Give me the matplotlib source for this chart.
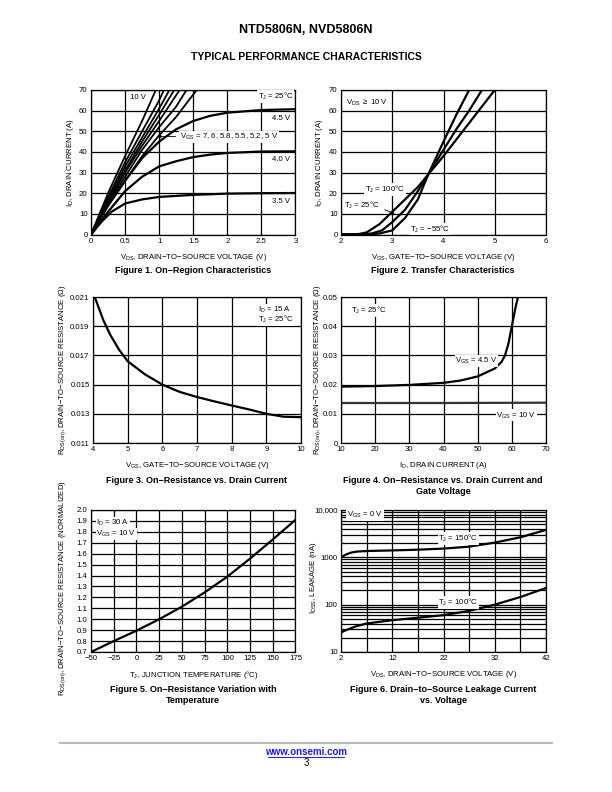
import numpy as np
import matplotlib.pyplot as plt
from matplotlib.ticker import FixedLocator, NullFormatter

plt.rcParams['font.family'] = ['Liberation Sans', 'DejaVu Sans']
plt.rcParams['mathtext.fontset'] = 'custom'
plt.rcParams['mathtext.rm'] = 'Liberation Sans'
plt.rcParams['mathtext.it'] = 'Liberation Sans'

# ---- Figure 1: on-region characteristics ----
vgs_steep = ['10', '7', '6', '5.8', '5.5', '5.2', '5']
vds_steep = [[0, 0.25, 0.5, 0.75, 0.95],
             [0, 0.25, 0.5, 0.75, 1.0, 1.07],
             [0, 0.25, 0.5, 0.75, 1.0, 1.15],
             [0, 0.25, 0.5, 0.75, 1.0, 1.22],
             [0, 0.25, 0.5, 0.75, 1.0, 1.3],
             [0, 0.25, 0.5, 0.75, 1.0, 1.25, 1.4],
             [0, 0.25, 0.5, 0.75, 1.0, 1.25, 1.55]]
id_steep = [[0, 20, 38, 55, 70],
            [0, 18, 35, 50, 65, 70],
            [0, 17, 33, 47, 61, 70],
            [0, 16, 31, 45, 58, 70],
            [0, 15.5, 30, 43, 55, 70],
            [0, 15, 28, 41, 52, 62, 70],
            [0, 14, 26, 38, 48, 57, 70]]
vds_sat = [0, 0.25, 0.5, 0.75, 1.0, 1.25, 1.5, 1.75, 2.0, 2.5, 3.0]
id_45 = [0, 14, 26, 37, 45, 51, 55, 57.5, 59, 60.3, 60.7]
id_40 = [0, 11, 21, 28, 33, 35.5, 37.5, 38.7, 39.5, 40.2, 40.3]
vds_35 = [0, 0.15, 0.3, 0.5, 0.75, 1.0, 1.5, 2.0, 2.5, 3.0]
id_35 = [0, 6, 11, 15, 17, 18.2, 19.2, 19.8, 20, 20.1]

# ---- Figure 2: transfer characteristics ----
vgs_m55 = [2.0, 2.5, 2.75, 3.0, 3.25, 3.5, 3.7, 4.0, 4.25, 4.5]
id_m55 = [0, 0, 0.5, 2, 8, 17, 29, 45, 58, 70]
vgs_25 = [2.0, 2.4, 2.6, 2.8, 3.0, 3.25, 3.5, 3.7, 4.0, 4.25, 4.5, 4.75]
id_25 = [0, 0, 0.5, 2, 6, 12, 21, 29, 41, 51, 60, 70]
vgs_100 = [2.0, 2.3, 2.5, 2.75, 3.0, 3.25, 3.5, 3.7, 4.0, 4.25, 4.5, 4.75, 5.0]
id_100 = [0, 0, 1, 5, 11, 17, 23, 29, 38, 46, 54, 62, 70]

# ---- Figure 3: RDS(on) vs VGS ----
vgs_r = [4.05, 4.3, 4.5, 4.75, 5, 5.5, 6, 6.5, 7, 7.5, 8, 8.5, 9, 9.5, 10]
rds_vgs = [0.021, 0.0194, 0.0184, 0.0174, 0.0166, 0.0157, 0.0150, 0.0145,
           0.01415, 0.01385, 0.01357, 0.0133, 0.0130, 0.0128, 0.01277]

# ---- Figure 4: RDS(on) vs ID ----
id_r = [10, 20, 30, 40, 45, 50, 55, 57, 58, 59, 60, 61, 61.8]
rds_45 = [0.0193, 0.0195, 0.0199, 0.0206, 0.0214, 0.0228, 0.0255, 0.0278,
          0.030, 0.034, 0.040, 0.046, 0.05]
id_r10 = [10, 40, 70]
rds_10 = [0.0137, 0.0137, 0.0138]

# ---- Figure 5: normalized RDS(on) vs TJ ----
tj = [-50, -25, 0, 25, 50, 75, 100, 125, 150, 175]
rds_norm = [0.70, 0.80, 0.895, 1.0, 1.115, 1.245, 1.39, 1.555, 1.73, 1.91]

# ---- Figure 6: IDSS leakage ----
vds_l = [2, 3, 4, 5, 7, 12, 17, 22, 27, 32, 37, 42]
idss_150 = [1000, 1150, 1260, 1320, 1360, 1400, 1450, 1530, 1680, 2050, 2650, 3800]
idss_100 = [26, 29, 32, 35, 40, 47, 53, 60, 74, 100, 145, 225]

fig = plt.figure(figsize=(6.12, 7.92), dpi=100)
W, H = 612., 792.


def box(l, t, r, b):
    return fig.add_axes([l / W, 1 - b / H, (r - l) / W, (b - t) / H])


lw = 1.6
tfs = 5.6
lfs = 5.6
white = dict(facecolor='white', edgecolor='none', pad=0.6)


def style(ax):
    ax.grid(True, which='both', color='black', linewidth=0.9)
    ax.tick_params(which='both', length=0, labelsize=tfs, pad=2.5)
    for s in ax.spines.values():
        s.set_linewidth(0.9)
    ax.set_axisbelow(True)


# Figure 1
ax1 = box(91, 90, 295.5, 234.5)
for v, i in zip(vds_steep, id_steep):
    ax1.plot(v, i, color='black', lw=1.3)
ax1.plot(vds_sat, id_45, color='black', lw=lw)
ax1.plot(vds_sat, id_40, color='black', lw=lw)
ax1.plot(vds_35, id_35, color='black', lw=lw)
ax1.set_xlim(0, 3)
ax1.set_ylim(0, 70)
ax1.set_xticks(np.arange(0, 3.01, 0.5))
ax1.set_xticklabels(['0', '0.5', '1', '1.5', '2', '2.5', '3'])
ax1.set_yticks(range(0, 71, 10))
style(ax1)
ax1.text(0.57, 65.5, '10 V', fontsize=tfs, bbox=white)
ax1.text(2.45, 65.5, r'T$_\mathregular{J}$ = 25$\degree$C', fontsize=tfs, bbox=white)
ax1.text(2.65, 55.5, '4.5 V', fontsize=tfs, bbox=white)
ax1.text(1.3, 46.5, r'V$_\mathregular{GS}$ = 7, 6, 5.8, 5.5, 5.2, 5 V', fontsize=tfs, bbox=white)
ax1.annotate('', xy=(0.93, 47.5), xytext=(1.28, 47.5),
             arrowprops=dict(arrowstyle='-|>', color='black', lw=0.6, mutation_scale=5))
ax1.text(2.65, 35.5, '4.0 V', fontsize=tfs, bbox=white)
ax1.text(2.65, 15.5, '3.5 V', fontsize=tfs, bbox=white)
ax1.set_xlabel(r'V$_\mathregular{DS}$, DRAIN$-$TO$-$SOURCE VOLTAGE (V)', fontsize=lfs, labelpad=5)
ax1.set_ylabel(r'I$_\mathregular{D}$, DRAIN CURRENT (A)', fontsize=lfs)
ax1.yaxis.set_label_coords(-0.075, 0.5)

# Figure 2
ax2 = box(341, 90, 546, 234.5)
ax2.plot(vgs_m55, id_m55, color='black', lw=lw)
ax2.plot(vgs_25, id_25, color='black', lw=lw)
ax2.plot(vgs_100, id_100, color='black', lw=lw)
ax2.set_xlim(2, 6)
ax2.set_ylim(0, 70)
ax2.set_xticks(range(2, 7))
ax2.set_yticks(range(0, 71, 10))
style(ax2)
ax2.text(2.1, 63, r'V$_\mathregular{DS}$ $\geq$ 10 V', fontsize=tfs, bbox=white)
ax2.text(2.47, 20.5, r'T$_\mathregular{J}$ = 100$\degree$C', fontsize=tfs, bbox=white)
ax2.text(2.05, 13, r'T$_\mathregular{J}$ = 25$\degree$C', fontsize=tfs, bbox=white)
ax2.annotate('', xy=(3.1, 9.5), xytext=(2.8, 12.5),
             arrowprops=dict(arrowstyle='-|>', color='black', lw=0.6, mutation_scale=5))
ax2.text(3.35, 1.5, r'T$_\mathregular{J}$ = $-$55$\degree$C', fontsize=tfs, bbox=white)
ax2.set_xlabel(r'V$_\mathregular{GS}$, GATE$-$TO$-$SOURCE VOLTAGE (V)', fontsize=lfs, labelpad=5)
ax2.set_ylabel(r'I$_\mathregular{D}$, DRAIN CURRENT (A)', fontsize=lfs)
ax2.yaxis.set_label_coords(-0.08, 0.5)

# Figure 3
ax3 = box(93, 297, 301, 443)
ax3.plot(vgs_r, rds_vgs, color='black', lw=lw)
ax3.set_xlim(4, 10)
ax3.set_ylim(0.011, 0.021)
ax3.set_xticks(range(4, 11))
ax3.set_yticks(np.arange(0.011, 0.0211, 0.002))
ax3.set_yticklabels(['0.011', '0.013', '0.015', '0.017', '0.019', '0.021'])
style(ax3)
ax3.text(8.75, 0.0200, r'I$_\mathregular{D}$ = 15 A', fontsize=tfs, bbox=white)
ax3.text(8.75, 0.0193, r'T$_\mathregular{J}$ = 25$\degree$C', fontsize=tfs, bbox=white)
ax3.set_xlabel(r'V$_\mathregular{GS}$, GATE$-$TO$-$SOURCE VOLTAGE (V)', fontsize=lfs, labelpad=5)
ax3.set_ylabel(r'R$_\mathregular{DS(on)}$, DRAIN$-$TO$-$SOURCE RESISTANCE ($\Omega$)', fontsize=lfs)
ax3.yaxis.set_label_coords(-0.118, 0.5)

# Figure 4
ax4 = box(341, 297, 546, 443)
ax4.plot(id_r, rds_45, color='black', lw=lw)
ax4.plot(id_r10, rds_10, color='#333333', lw=lw)
ax4.set_xlim(10, 70)
ax4.set_ylim(0, 0.05)
ax4.set_xticks(range(10, 71, 10))
ax4.set_yticks(np.arange(0, 0.051, 0.01))
ax4.set_yticklabels(['0', '0.01', '0.02', '0.03', '0.04', '0.05'])
style(ax4)
ax4.text(13, 0.0445, r'T$_\mathregular{J}$ = 25$\degree$C', fontsize=tfs, bbox=white)
ax4.text(43.5, 0.0273, r'V$_\mathregular{GS}$ = 4.5 V', fontsize=tfs, bbox=white)
ax4.text(55.5, 0.0088, r'V$_\mathregular{GS}$ = 10 V', fontsize=tfs, bbox=white)
ax4.set_xlabel(r'I$_\mathregular{D}$, DRAIN CURRENT (A)', fontsize=lfs, labelpad=5)
ax4.set_ylabel(r'R$_\mathregular{DS(on)}$, DRAIN$-$TO$-$SOURCE RESISTANCE ($\Omega$)', fontsize=lfs)
ax4.yaxis.set_label_coords(-0.09, 0.5)

# Figure 5
ax5 = box(91, 510, 295.5, 652)
ax5.plot(tj, rds_norm, color='black', lw=lw)
ax5.set_xlim(-50, 175)
ax5.set_ylim(0.7, 2.0)
ax5.set_xticks(range(-50, 176, 25))
ax5.set_xticklabels(['\u221250', '\u221225', '0', '25', '50', '75', '100', '125', '150', '175'])
ax5.set_yticks(np.arange(0.7, 2.01, 0.1))
ax5.set_yticklabels(['%.1f' % v for v in np.arange(0.7, 2.01, 0.1)])
style(ax5)
ax5.text(-44, 1.865, r'I$_\mathregular{D}$ = 30 A', fontsize=tfs, bbox=white)
ax5.text(-44, 1.765, r'V$_\mathregular{GS}$ = 10 V', fontsize=tfs, bbox=white)
ax5.set_xlabel(r'T$_\mathregular{J}$, JUNCTION TEMPERATURE ($\degree$C)', fontsize=lfs, labelpad=5)
ax5.set_ylabel(r'R$_\mathregular{DS(on)}$, DRAIN$-$TO$-$SOURCE RESISTANCE (NORMALIZED)', fontsize=lfs)
ax5.yaxis.set_label_coords(-0.112, 0.45)

# Figure 6
ax6 = box(341, 510, 546, 652)
ax6.plot(vds_l, idss_150, color='black', lw=lw)
ax6.plot(vds_l, idss_100, color='black', lw=lw)
ax6.set_yscale('log')
ax6.set_xlim(2, 42)
ax6.set_ylim(10, 10000)
ax6.set_xticks(range(2, 43, 10))
ax6.xaxis.set_minor_locator(FixedLocator(range(7, 43, 10)))
ax6.set_yticks([10, 100, 1000, 10000])
ax6.set_yticklabels(['10', '100', '1000', '10,000'])
ax6.yaxis.set_minor_formatter(NullFormatter())
style(ax6)
ax6.text(3.2, 7300, r'V$_\mathregular{GS}$ = 0 V', fontsize=tfs, bbox=white)
ax6.text(21, 2250, r'T$_\mathregular{J}$ = 150$\degree$C', fontsize=tfs, bbox=white)
ax6.text(21, 100, r'T$_\mathregular{J}$ = 100$\degree$C', fontsize=tfs, bbox=white)
ax6.set_xlabel(r'V$_\mathregular{DS}$, DRAIN$-$TO$-$SOURCE VOLTAGE (V)', fontsize=lfs, labelpad=5)
ax6.set_ylabel(r'I$_\mathregular{DSS}$, LEAKAGE (nA)', fontsize=lfs)
ax6.yaxis.set_label_coords(-0.108, 0.52)

# captions
cap = dict(fontsize=6.5, fontweight='bold', ha='center', va='top')
fig.text(193 / W, 1 - 266 / H, 'Figure 1. On\u2212Region Characteristics', **cap)
fig.text(443 / W, 1 - 266 / H, 'Figure 2. Transfer Characteristics', **cap)
fig.text(197 / W, 1 - 476 / H, 'Figure 3. On\u2212Resistance vs. Drain Current', **cap)
fig.text(443 / W, 1 - 476 / H, 'Figure 4. On\u2212Resistance vs. Drain Current and\nGate Voltage', linespacing=1.3, **cap)
fig.text(193 / W, 1 - 685 / H, 'Figure 5. On\u2212Resistance Variation with\nTemperature', linespacing=1.3, **cap)
fig.text(443 / W, 1 - 685 / H, 'Figure 6. Drain\u2212to\u2212Source Leakage Current\nvs. Voltage', linespacing=1.3, **cap)

# page header / footer
fig.text(0.5, 1 - 30 / H, 'NTD5806N, NVD5806N', fontsize=9, fontweight='bold', ha='center', va='center')
fig.text(0.5, 1 - 57 / H, 'TYPICAL PERFORMANCE CHARACTERISTICS', fontsize=7.5, fontweight='bold', ha='center', va='center')
fig.add_artist(plt.Line2D([60 / W, 552 / W], [1 - 743 / H, 1 - 743 / H], color='#bbbbbb', lw=1.5))
fig.text(0.5, 1 - 752 / H, 'www.onsemi.com', fontsize=7, fontweight='bold', color='#1a1aff', ha='center', va='center')
fig.add_artist(plt.Line2D([268 / W, 344 / W], [1 - 757 / H, 1 - 757 / H], color='#1a1aff', lw=0.7))
fig.text(0.5, 1 - 763 / H, '3', fontsize=7, ha='center', va='center')

fig.savefig('out.png', dpi=100)
